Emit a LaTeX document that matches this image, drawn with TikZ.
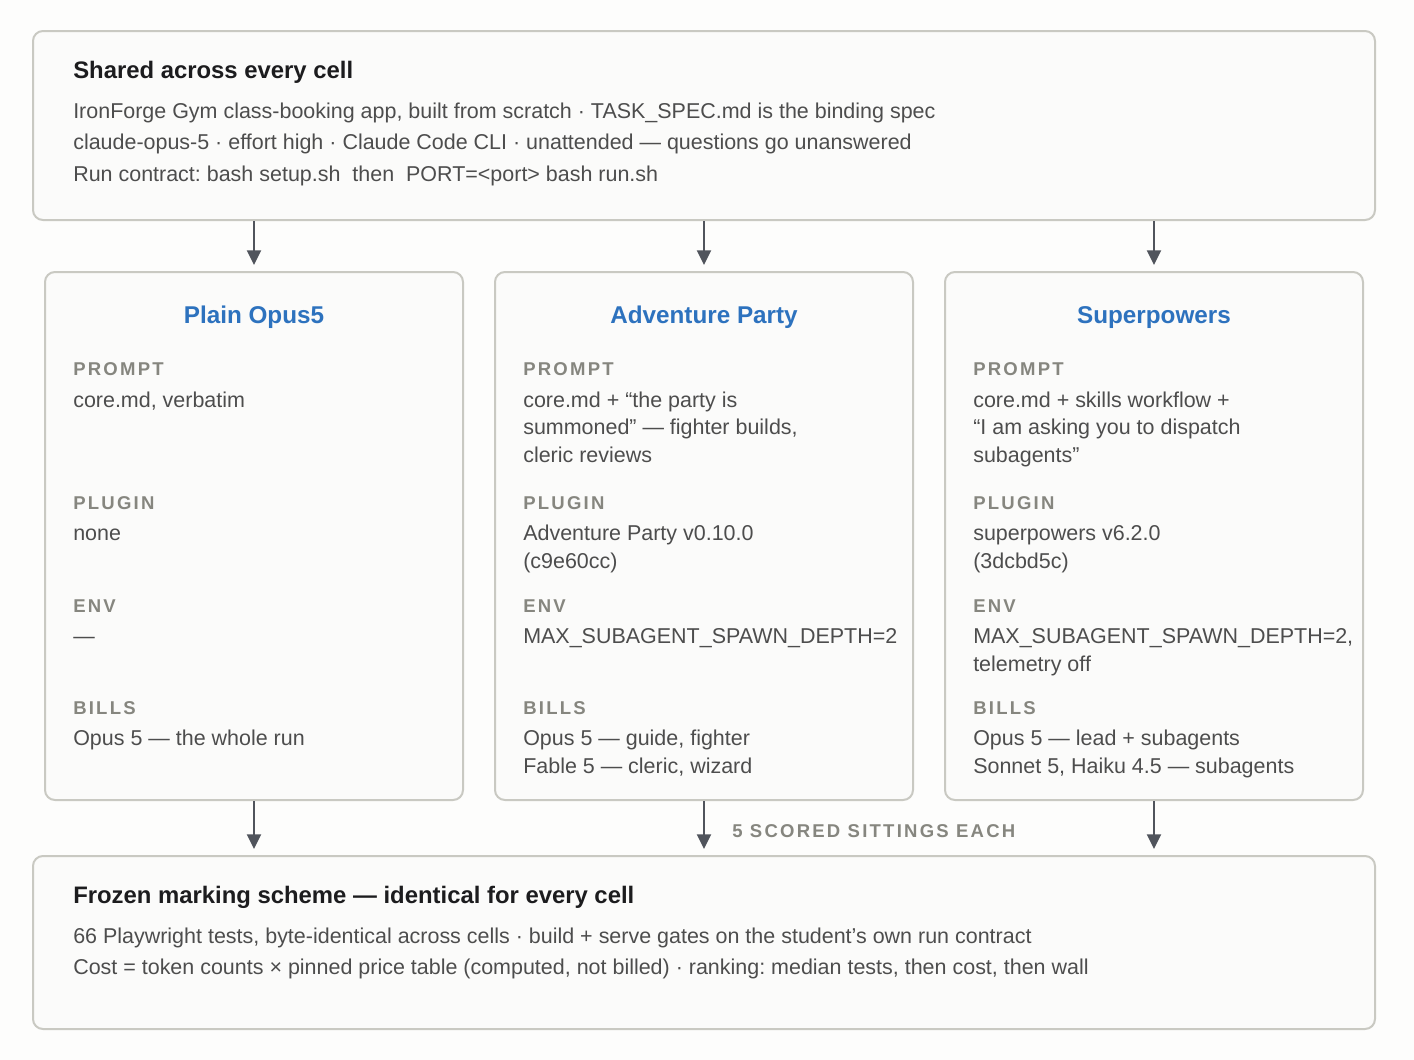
\documentclass[tikz,border=0pt]{standalone}
\usepackage{fontspec}
\setmainfont{Liberation Sans}
\newfontfamily\lblfont[LetterSpace=12]{Liberation Sans}
\usetikzlibrary{arrows.meta,fit}
\frenchspacing
\definecolor{pagebg}{HTML}{FDFDFC}
\definecolor{boxfill}{HTML}{FBFBFA}
\definecolor{boxline}{HTML}{C9C9C2}
\definecolor{arrowc}{HTML}{50545C}
\definecolor{titlec}{HTML}{1C1C1E}
\definecolor{bodyc}{HTML}{4D4D4D}
\definecolor{lblc}{HTML}{86867F}
\definecolor{bluec}{HTML}{2D72BE}
\begin{document}
\begin{tikzpicture}[x=0.75pt,y=-0.75pt,
  box/.style={draw=boxline,line width=1.5pt,fill=boxfill,rounded corners=7.5pt,inner sep=0pt},
  arr/.style={draw=arrowc,line width=1.5pt,-{Triangle[width=10.5pt,length=11pt]},shorten >=4.5pt},
  ttl/.style={anchor=base west,inner sep=0pt,text=titlec,font=\fontsize{17.9}{21}\selectfont\bfseries},
  body/.style={anchor=base west,inner sep=0pt,text=bodyc,font=\fontsize{16.1}{19}\selectfont},
  coltitle/.style={anchor=base,inner sep=0pt,text=bluec,font=\fontsize{18.2}{21}\selectfont\bfseries},
  lbl/.style={anchor=base west,inner sep=0pt,text=lblc,font=\fontsize{13.9}{16}\selectfont\lblfont\bfseries},
]
\useasboundingbox[fill=pagebg] (0,0) rectangle (1414,1060);

% boxes
\node[box,fit={(33,31) (1375,220)}] (top) {};
\node[box,fit={(45,272) (463,800)}] (c1) {};
\node[box,fit={(495,272) (913,800)}] (c2) {};
\node[box,fit={(945,272) (1363,800)}] (c3) {};
\node[box,fit={(33,856) (1375,1029)}] (bot) {};

% arrows
\draw[arr] (top.south -| c1.north) -- (c1.north);
\draw[arr] (top.south -| c2.north) -- (c2.north);
\draw[arr] (top.south -| c3.north) -- (c3.north);
\draw[arr] (c1.south) -- (bot.north -| c1.south);
\draw[arr] (c2.south) -- (bot.north -| c2.south);
\draw[arr] (c3.south) -- (bot.north -| c3.south);

% top box text
\node[ttl] (t0) at (73,78) {Shared across every cell};
\node[body] (t1) at (73,118) {IronForge Gym class-booking app, built from scratch · TASK\_SPEC.md is the binding spec};
\node[body] (t2) at (73,149) {claude-opus-5 · effort high · Claude Code CLI · unattended — questions go unanswered};
\node[body] (t3) at (73,181) {Run contract: bash setup.sh\ \ then\ \ PORT=<port> bash run.sh};

% column 1
\node[coltitle] (h1) at (254,323) {Plain Opus5};
\node[lbl] (a1) at (73,375) {PROMPT};
\node[body] (a1v1) at (73,407) {core.md, verbatim};
\node[lbl] (b1) at (73,509) {PLUGIN};
\node[body] (b1v1) at (73,540) {none};
\node[lbl] (e1) at (73,612) {ENV};
\node[body] (e1v1) at (73,643) {—};
\node[lbl] (f1) at (73,714) {BILLS};
\node[body] (f1v1) at (73,745) {Opus 5 — the whole run};

% column 2
\node[coltitle] (h2) at (704,323) {Adventure Party};
\node[lbl] (a2) at (523,375) {PROMPT};
\node[body] (a2v1) at (523,407) {core.md + “the party is};
\node[body] (a2v2) at (523,434) {summoned” — fighter builds,};
\node[body] (a2v3) at (523,462) {cleric reviews};
\node[lbl] (b2) at (523,509) {PLUGIN};
\node[body] (b2v1) at (523,540) {Adventure Party v0.10.0};
\node[body] (b2v2) at (523,568) {(c9e60cc)};
\node[lbl] (e2) at (523,612) {ENV};
\node[body] (e2v1) at (523,643) {MAX\_SUBAGENT\_SPAWN\_DEPTH=2};
\node[lbl] (f2) at (523,714) {BILLS};
\node[body] (f2v1) at (523,745) {Opus 5 — guide, fighter};
\node[body] (f2v2) at (523,773) {Fable 5 — cleric, wizard};

% column 3
\node[coltitle] (h3) at (1154,323) {Superpowers};
\node[lbl] (a3) at (973,375) {PROMPT};
\node[body] (a3v1) at (973,407) {core.md + skills workflow +};
\node[body] (a3v2) at (973,434) {“I am asking you to dispatch};
\node[body] (a3v3) at (973,462) {subagents”};
\node[lbl] (b3) at (973,509) {PLUGIN};
\node[body] (b3v1) at (973,540) {superpowers v6.2.0};
\node[body] (b3v2) at (973,568) {(3dcbd5c)};
\node[lbl] (e3) at (973,612) {ENV};
\node[body] (e3v1) at (973,643) {MAX\_SUBAGENT\_SPAWN\_DEPTH=2,};
\node[body] (e3v2) at (973,671) {telemetry off};
\node[lbl] (f3) at (973,714) {BILLS};
\node[body] (f3v1) at (973,745) {Opus 5 — lead + subagents};
\node[body] (f3v2) at (973,773) {Sonnet 5, Haiku 4.5 — subagents};

% sittings label
\node[lbl] (sit) at (732,837) {5 SCORED SITTINGS EACH};

% bottom box text
\node[ttl] (m0) at (73,903) {Frozen marking scheme — identical for every cell};
\node[body] (m1) at (73,943) {66 Playwright tests, byte-identical across cells · build + serve gates on the student’s own run contract};
\node[body] (m2) at (73,974) {Cost = token counts × pinned price table (computed, not billed) · ranking: median tests, then cost, then wall};
\end{tikzpicture}
\end{document}
